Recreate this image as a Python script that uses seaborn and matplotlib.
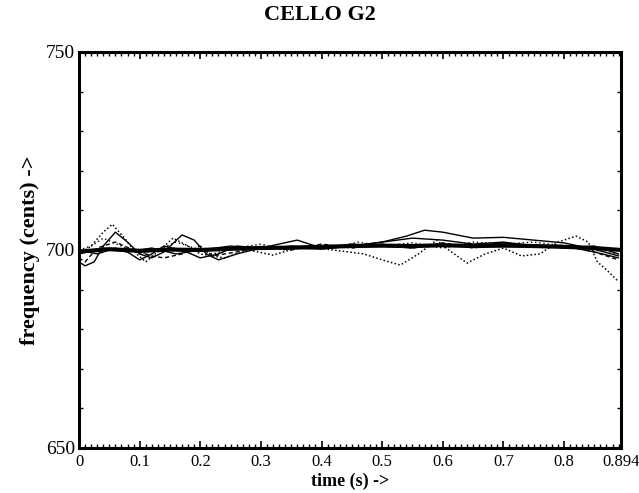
import numpy as np
import pandas as pd
import matplotlib
matplotlib.use("Agg")
import matplotlib.pyplot as plt
from matplotlib.ticker import MultipleLocator, FixedLocator
import seaborn as sns

sns.set_style("ticks")
plt.rcParams['font.family'] = ['Liberation Serif', 'DejaVu Serif']
plt.rcParams['text.color'] = 'black'
plt.rcParams['axes.labelcolor'] = 'black'
plt.rcParams['xtick.color'] = 'black'
plt.rcParams['ytick.color'] = 'black'

title = "CELLO G2"
xlabel = "time (s) ->"
ylabel = "frequency (cents) ->"
xtick_vals = [0, 0.1, 0.2, 0.3, 0.4, 0.5, 0.6, 0.7, 0.8, 0.894]
xtick_labels = ["0", "0.1", "0.2", "0.3", "0.4", "0.5", "0.6", "0.7", "0.8", "0.894"]
ytick_vals = [650, 700, 750]

# thick mean curve
t_mean = [0, 0.05, 0.1, 0.15, 0.2, 0.25, 0.3, 0.35, 0.4, 0.45, 0.5, 0.55, 0.6, 0.65, 0.7, 0.75, 0.8, 0.85, 0.894]
f_mean = [699.6, 700.2, 699.8, 700.1, 700.0, 700.3, 700.5, 700.6, 700.8, 701.0, 701.1, 701.0, 701.2, 701.0, 701.1, 701.0, 700.8, 700.5, 700.0]

# solid curve 1
t_s1 = [0, 0.01, 0.025, 0.04, 0.06, 0.08, 0.1, 0.12, 0.14, 0.17, 0.19, 0.21, 0.23, 0.26, 0.3, 0.35, 0.4, 0.45, 0.5, 0.54, 0.57, 0.6, 0.65, 0.7, 0.75, 0.8, 0.85, 0.89]
f_s1 = [697, 696, 697, 701, 704.5, 702, 699, 698, 699.5, 703.8, 702.5, 699, 697.5, 699, 700.5, 700.5, 700.2, 701, 702, 703.5, 705, 704.5, 703, 703.2, 702.5, 701.8, 700.2, 698.5]

# solid curve 2
t_s2 = [0, 0.03, 0.06, 0.08, 0.1, 0.12, 0.14, 0.17, 0.2, 0.23, 0.26, 0.3, 0.36, 0.4, 0.45, 0.5, 0.55, 0.6, 0.65, 0.7, 0.75, 0.8, 0.85, 0.89]
f_s2 = [700, 699, 700.5, 699.5, 697.5, 699, 701, 700, 698, 699, 701, 700.5, 702.5, 700.5, 701, 702, 703, 702.5, 701.5, 702, 701, 701, 699.5, 698]

# solid curve 3
t_s3 = [0, 0.04, 0.08, 0.12, 0.16, 0.2, 0.25, 0.3, 0.35, 0.4, 0.45, 0.5, 0.55, 0.6, 0.65, 0.7, 0.75, 0.8, 0.85, 0.89]
f_s3 = [699, 700.5, 699.5, 700.5, 699, 700, 701, 700.2, 701, 700.5, 701.5, 701, 700.5, 701.5, 701, 701.8, 701.2, 700.5, 701, 699]

# dotted curve 1
t_d1 = [0, 0.02, 0.04, 0.055, 0.075, 0.095, 0.11, 0.13, 0.155, 0.18, 0.2, 0.24, 0.28, 0.32, 0.37, 0.42, 0.47, 0.5, 0.53, 0.56, 0.59, 0.61, 0.64, 0.67, 0.7, 0.73, 0.76, 0.79, 0.82, 0.84, 0.855, 0.87, 0.89]
f_d1 = [699, 701, 704.5, 706.5, 703, 699, 697, 699.5, 703, 701, 699, 698, 700, 698.7, 701, 700, 699, 697.5, 696.2, 699, 702.5, 700, 696.7, 699, 700.5, 698.5, 699, 702, 703.5, 702, 697, 695, 692]

# dashed curve 2
t_d2 = [0, 0.01, 0.03, 0.06, 0.09, 0.12, 0.14, 0.17, 0.2, 0.22, 0.26, 0.3, 0.35, 0.4, 0.45, 0.5, 0.55, 0.6, 0.65, 0.7, 0.75, 0.8, 0.85, 0.89]
f_d2 = [698, 697, 700.5, 702, 700, 698.5, 698, 699, 701, 698.5, 699.5, 701, 700, 701.5, 700.5, 701.5, 700.5, 701.8, 700.5, 701.5, 700.8, 701.2, 699.5, 697.5]

# dotted curve 3
t_d3 = [0, 0.02, 0.04, 0.07, 0.1, 0.13, 0.16, 0.19, 0.22, 0.26, 0.3, 0.34, 0.38, 0.42, 0.46, 0.5, 0.55, 0.6, 0.65, 0.7, 0.75, 0.8, 0.85, 0.89]
f_d3 = [700, 701, 703, 701, 699, 700, 702, 700.5, 699, 700.5, 701.5, 700, 701, 700.5, 702, 701, 701.8, 700.5, 702, 701.5, 702, 701, 700, 698.8]

curves = [
    (t_mean, f_mean, "-", 3.0),
    (t_s1, f_s1, "-", 1.0),
    (t_s2, f_s2, "-", 1.0),
    (t_s3, f_s3, "-", 1.0),
    (t_d1, f_d1, (0, (1, 1.5)), 1.1),
    (t_d2, f_d2, (0, (3, 2)), 1.0),
    (t_d3, f_d3, (0, (1, 2)), 1.0),
]

fig = plt.figure(figsize=(6.39, 4.93), dpi=100)
ax = fig.add_axes([79/639, 45/493, 542/639, 396/493])

for t, f, ls, lw in curves:
    df = pd.DataFrame({"t": t, "f": f})
    sns.lineplot(data=df, x="t", y="f", ax=ax, color="black", linestyle=ls,
                 linewidth=lw, sort=False, estimator=None)

ax.set_xlim(0, 0.894)
ax.set_ylim(650, 750)

ax.xaxis.set_major_locator(FixedLocator(xtick_vals))
ax.set_xticklabels(xtick_labels, fontsize=12)
ax.xaxis.set_minor_locator(MultipleLocator(0.01))
ax.yaxis.set_major_locator(FixedLocator(ytick_vals))
ax.set_yticklabels([str(v) for v in ytick_vals], fontsize=14)
ax.yaxis.set_minor_locator(MultipleLocator(10))

ax.tick_params(which="both", direction="in", top=True, right=True, color="black")
ax.tick_params(which="major", length=5, width=1.2, pad=4)
ax.tick_params(which="minor", length=3, width=1.0)
ax.tick_params(axis="y", which="major", length=0, pad=3)

for s in ax.spines.values():
    s.set_linewidth(2.2)
    s.set_color("black")
    s.set_visible(True)

ax.set_xlabel(xlabel, fontsize=13, fontweight="bold", labelpad=2)
ax.set_ylabel(ylabel, fontsize=16, fontweight="bold", labelpad=4)
fig.suptitle(title, fontsize=16, fontweight="bold", y=0.99)

fig.savefig("out.png", dpi=100)
